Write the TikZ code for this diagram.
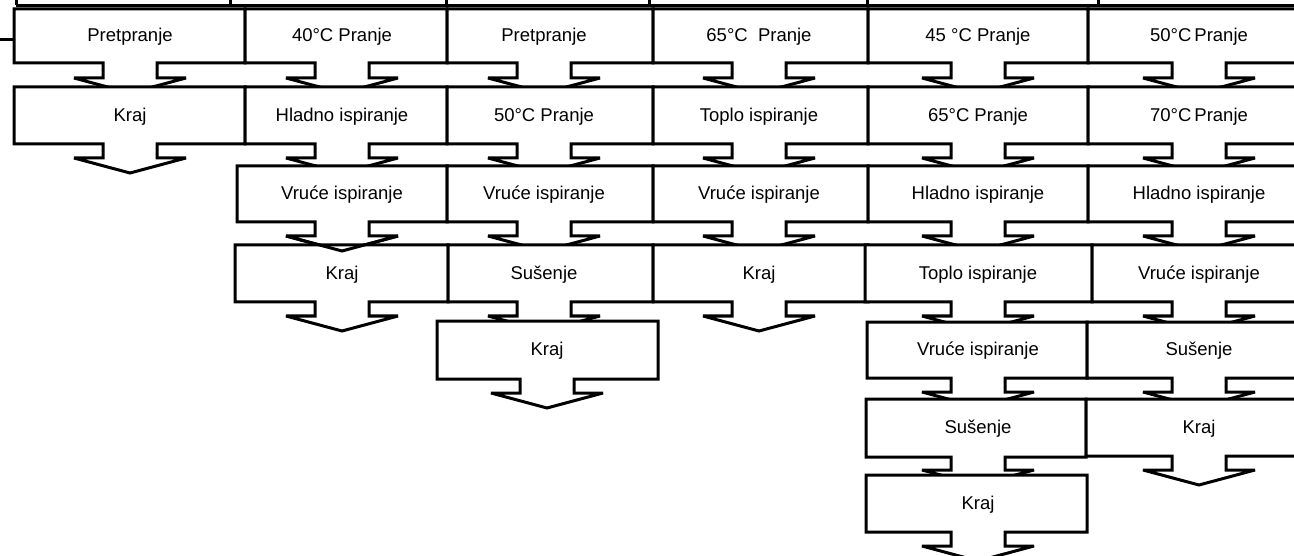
\documentclass[tikz,border=0pt]{standalone}
\usepackage{fontspec}
\setmainfont{Liberation Sans}
\tikzset{
  stepline/.style={draw=black, fill=white, line width=3pt, miter limit=3},
  plainline/.style={draw=black, line width=3pt},
  steptext/.style={font=\fontsize{18.5}{22}\selectfont, inner sep=0pt},
  stepframe/.style={draw=none, inner sep=0pt, outer sep=0pt},
}
% #1 name, #2 left, #3 right, #4 top, #5 bottom, #6 arrow centre, #7 stem length, #8 text
\newcommand\blockstep[8]{%
  \draw[stepline] (#2,#4) -- (#3,#4) -- (#3,#5) -- (#6+27,#5) -- (#6+27,#5+#7)
    -- (#6+56,#5+#7) -- (#6,#5+#7+15) -- (#6-56,#5+#7) -- (#6-27,#5+#7)
    -- (#6-27,#5) -- (#2,#5) -- cycle;
  \node[stepframe, minimum width={#3-#2}, minimum height={#5-#4}] (#1) at ({(#2+#3)/2},{(#4+#5)/2}) {};
  \node[steptext] (#1t) at (#6,{(#4+#5)/2+1}) {#8};
}
\begin{document}
\begin{tikzpicture}[x=1pt,y=-1pt]
\useasboundingbox (0,0) rectangle (1294,556);
\clip (0,0) rectangle (1294,556);
% cut-off row above
\draw[plainline] (16,5.5) -- (1300,5.5);
\foreach \xx in {16,230,446,649,867,1098} \draw[plainline] (\xx,-5) -- (\xx,5.5);
% row 1
\blockstep{a1}{14}{245}{9}{63}{130}{15}{Pretpranje}
\blockstep{b1}{245}{447}{9}{63}{342}{15}{40°C Pranje}
\blockstep{c1}{447}{653}{9}{63}{544}{15}{Pretpranje}
\blockstep{d1}{653}{868}{9}{63}{759}{15}{65°C \ Pranje}
\blockstep{e1}{868}{1088}{9}{63}{978}{15}{45 °C Pranje}
\blockstep{f1}{1088}{1310}{9}{63}{1199}{15}{50°C\,Pranje}
% row 2
\blockstep{a2}{14}{245}{87}{144}{130}{14}{Kraj}
\blockstep{b2}{245}{447}{87}{144}{342}{14}{Hladno ispiranje}
\blockstep{c2}{447}{653}{87}{144}{544}{14}{50°C Pranje}
\blockstep{d2}{653}{868}{87}{144}{759}{14}{Toplo ispiranje}
\blockstep{e2}{868}{1088}{87}{144}{978}{14}{65°C Pranje}
\blockstep{f2}{1088}{1310}{87}{144}{1199}{14}{70°C\,Pranje}
% row 3
\blockstep{b3}{237}{447}{166}{222}{342}{14}{Vruće ispiranje}
\blockstep{c3}{447}{653}{166}{222}{544}{14}{Vruće ispiranje}
\blockstep{d3}{653}{868}{166}{222}{759}{14}{Vruće ispiranje}
\blockstep{e3}{868}{1088}{166}{222}{978}{14}{Hladno ispiranje}
\blockstep{f3}{1088}{1310}{166}{222}{1199}{14}{Hladno ispiranje}
% row 4
\blockstep{b4}{235}{448}{245}{302}{342}{14}{Kraj}
\blockstep{c4}{448}{653}{245}{302}{544}{14}{Sušenje}
\blockstep{d4}{653}{868}{245}{302}{759}{14}{Kraj}
\blockstep{e4}{865}{1092}{245}{302}{978}{14}{Toplo ispiranje}
\blockstep{f4}{1092}{1310}{245}{302}{1199}{14}{Vruće ispiranje}
% arrow head of b3 drawn over b4
\draw[plainline] (342-56,236) -- (342,251) -- (342+56,236);
% row 5
\blockstep{c5}{437}{658}{321}{379}{547}{14}{Kraj}
\blockstep{e5}{867}{1087}{322}{378}{978}{14}{Vruće ispiranje}
\blockstep{f5}{1087}{1310}{322}{378}{1199}{14}{Sušenje}
% row 6
\blockstep{e6}{866}{1086}{399}{457}{978}{13}{Sušenje}
\blockstep{f6}{1086}{1310}{399}{456}{1199}{14}{Kraj}
% row 7
\blockstep{e7}{866}{1087}{475}{532}{978}{14}{Kraj}
% incoming line
\coordinate (in) at (0,40);
\draw[plainline] (in) -- (in -| a1.west);
\end{tikzpicture}
\end{document}
